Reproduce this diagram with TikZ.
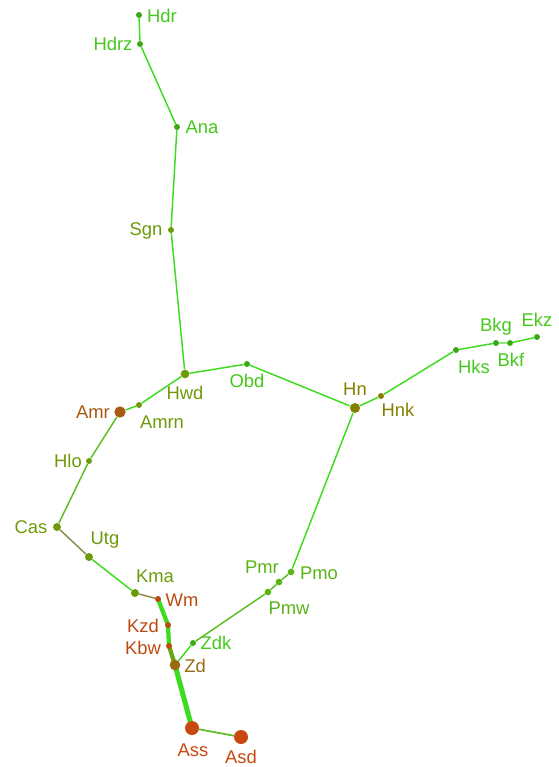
\documentclass[tikz,border=0pt]{standalone}
\usepackage{fontspec}
\setmainfont{Liberation Sans}
\usetikzlibrary{backgrounds}
\definecolor{lnG}{HTML}{3CDC1E}
\definecolor{lnM}{HTML}{5CBE22}
\definecolor{lnB}{HTML}{8C8A48}
\definecolor{cG}{HTML}{44C81A}
\definecolor{cD}{HTML}{3CA816}
\definecolor{cM}{HTML}{58B414}
\definecolor{cO}{HTML}{6E9A0A}
\definecolor{cK}{HTML}{858000}
\definecolor{cZ}{HTML}{9A6A12}
\definecolor{cA}{HTML}{A85A12}
\definecolor{cR}{HTML}{BC4A10}
\definecolor{cS}{HTML}{C84810}
\tikzset{
  dotnode/.style={circle,inner sep=0pt,minimum size=#1},
  dotnode/.default=4.5pt,
  lbl/.style={inner sep=0pt,font=\fontsize{13.8}{15}\selectfont},
  edge/.style={draw=lnG,line width=1.1pt},
}
\begin{document}
\begin{tikzpicture}[x=0.75pt,y=-0.75pt]
\useasboundingbox (0,0) rectangle (558,767);
% nodes
\node[dotnode=4.5pt,fill=cD] (Hdr) at (139,15) {};
\node[dotnode=4.5pt,fill=cD] (Hdrz) at (140,44) {};
\node[dotnode=4.5pt,fill=cD] (Ana) at (177,127) {};
\node[dotnode=4.5pt,fill=cO] (Sgn) at (171,230) {};
\node[dotnode=6.5pt,fill=cO] (Hwd) at (185,374) {};
\node[dotnode=4.5pt,fill=cD] (Obd) at (247,364) {};
\node[dotnode=7.5pt,fill=cK] (Hn) at (355,408) {};
\node[dotnode=4.5pt,fill=cK] (Hnk) at (381,396) {};
\node[dotnode=4.5pt,fill=cD] (Hks) at (456,350) {};
\node[dotnode=4.5pt,fill=cD] (Bkg) at (496,343) {};
\node[dotnode=4.5pt,fill=cD] (Bkf) at (510,343) {};
\node[dotnode=4.5pt,fill=cD] (Ekz) at (537,337) {};
\node[dotnode=4.5pt,fill=cO] (Amrn) at (139,405) {};
\node[dotnode=8.5pt,fill=cA] (Amr) at (120,412) {};
\node[dotnode=4.5pt,fill=cO] (Hlo) at (89,461) {};
\node[dotnode=6pt,fill=cO] (Cas) at (57,527) {};
\node[dotnode=6pt,fill=cO] (Utg) at (89,557) {};
\node[dotnode=6pt,fill=cO] (Kma) at (135,593) {};
\node[dotnode=4.5pt,fill=cR] (Wm) at (158,599) {};
\node[dotnode=4.5pt,fill=cR] (Kzd) at (168,625) {};
\node[dotnode=4.5pt,fill=cR] (Kbw) at (169,646) {};
\node[dotnode=8pt,fill=cZ] (Zd) at (175,665) {};
\node[dotnode=4.5pt,fill=cD] (Zdk) at (193,643) {};
\node[dotnode=5pt,fill=cM] (Pmw) at (268,592) {};
\node[dotnode=5pt,fill=cM] (Pmr) at (279,582) {};
\node[dotnode=5pt,fill=cM] (Pmo) at (291,572) {};
\node[dotnode=10.5pt,fill=cS] (Ass) at (192,728) {};
\node[dotnode=10.5pt,fill=cS] (Asd) at (241,737) {};
% edges
\begin{scope}[on background layer]
\draw[edge] (Hdr) -- (Hdrz) -- (Ana) -- (Sgn) -- (Hwd) -- (Obd) -- (Hn) -- (Hnk) -- (Hks) -- (Bkg) -- (Bkf) -- (Ekz);
\draw[edge] (Hwd) -- (Amrn) -- (Amr);
\draw[draw=lnM,line width=1.1pt] (Amr) -- (Hlo) -- (Cas);
\draw[draw=lnB,line width=1.1pt] (Cas) -- (Utg);
\draw[edge] (Utg) -- (Kma);
\draw[draw=lnB,line width=1.1pt] (Kma) -- (Wm);
\draw[draw=lnG,line width=3.2pt,line join=round] (Wm.center) -- (Kzd.center) -- (Kbw.center);
\draw[draw=cO!80!lnG,line width=3.2pt] (Kbw.center) -- (Zd.center);
\draw[draw=lnG,line width=3.8pt] (Zd.center) -- (Ass.center);
\draw[draw=lnM,line width=1.3pt] (Ass) -- (Asd);
\draw[edge] (Zd) -- (Zdk);
\draw[draw=lnM,line width=1.1pt] (Zdk) -- (Pmw) -- (Pmr) -- (Pmo);
\draw[edge] (Pmo) -- (Hn);
\end{scope}
% labels
\node[lbl,text=cG] (HdrL) at (162,16) {Hdr};
\node[lbl,text=cG] (HdrzL) at (113,44) {Hdrz};
\node[lbl,text=cG] (AnaL) at (202,127) {Ana};
\node[lbl,text=cO] (SgnL) at (146,231) {Sgn};
\node[lbl,text=cO] (HwdL) at (185,393) {Hwd};
\node[lbl,text=cG] (ObdL) at (247,381) {Obd};
\node[lbl,text=cK] (HnL) at (355,389) {Hn};
\node[lbl,text=cK] (HnkL) at (398,410) {Hnk};
\node[lbl,text=cG] (HksL) at (474,367) {Hks};
\node[lbl,text=cG] (BkgL) at (496,327) {Bkg};
\node[lbl,text=cG] (BkfL) at (511,360) {Bkf};
\node[lbl,text=cG] (EkzL) at (537,320) {Ekz};
\node[lbl,text=cO] (AmrnL) at (162,422) {Amrn};
\node[lbl,text=cA] (AmrL) at (93,412) {Amr};
\node[lbl,text=cO] (HloL) at (68,461) {Hlo};
\node[lbl,text=cO] (CasL) at (31,527) {Cas};
\node[lbl,text=cO] (UtgL) at (105,540) {Utg};
\node[lbl,text=cO] (KmaL) at (155,576) {Kma};
\node[lbl,text=cR] (WmL) at (182,600) {Wm};
\node[lbl,text=cR] (KzdL) at (143,626) {Kzd};
\node[lbl,text=cR] (KbwL) at (143,648) {Kbw};
\node[lbl,text=cZ] (ZdL) at (195,666) {Zd};
\node[lbl,text=cG] (ZdkL) at (216,643) {Zdk};
\node[lbl,text=cM] (PmwL) at (289,608) {Pmw};
\node[lbl,text=cM] (PmrL) at (262,567) {Pmr};
\node[lbl,text=cM] (PmoL) at (319,573) {Pmo};
\node[lbl,text=cS] (AssL) at (193,750) {Ass};
\node[lbl,text=cS] (AsdL) at (241,757) {Asd};
\end{tikzpicture}
\end{document}
